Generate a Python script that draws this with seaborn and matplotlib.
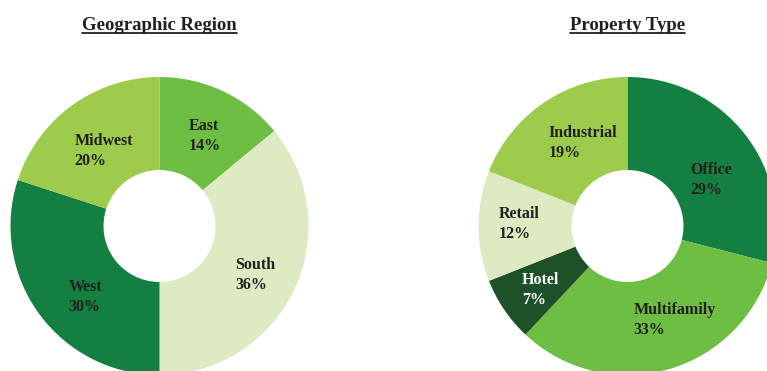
import matplotlib
matplotlib.use("Agg")
import matplotlib.pyplot as plt
import seaborn as sns
from matplotlib.lines import Line2D

sns.set_theme(style="white")
plt.rcParams['font.family'] = ['Liberation Serif', 'DejaVu Serif']

# ---- data ----
region_labels = ["East", "South", "West", "Midwest"]
region_values = [14, 36, 30, 20]
region_colors = ["#6fbe44", "#ddeac2", "#137f40", "#9dcb4b"]

ptype_labels = ["Office", "Multifamily", "Hotel", "Retail", "Industrial"]
ptype_values = [29, 33, 7, 12, 19]
ptype_colors = ["#137f40", "#6fbe44", "#1e5128", "#ddeac2", "#9dcb4b"]

titles = ["Geographic Region", "Property Type"]

# ---- layout (pixels, y measured from bottom) ----
W, H = 767, 371
fig = plt.figure(figsize=(W / 100, H / 100), dpi=100)
ax = fig.add_axes([0, 0, 1, 1])

R_OUT, R_IN = 149, 56
centers = [(159.5, H - 226), (627.5, H - 226)]
# label block offsets (dx, dy) relative to donut centre, in pixels
region_lbl_off = [(45, 90), (96, -49), (-74, -71), (-56, 75)]
ptype_lbl_off = [(84, 46), (47, -94), (-87, -64), (-108, 2), (-45, 83)]

text_color = "#231f20"

def donut(center, labels, values, colors, offsets, white=()):
    ax.pie(values, colors=colors, startangle=90, counterclock=False,
           radius=R_OUT, center=center,
           wedgeprops=dict(width=R_OUT - R_IN, linewidth=0, edgecolor="none"))
    for lab, v, (dx, dy) in zip(labels, values, offsets):
        col = "white" if lab in white else text_color
        ax.text(center[0] + dx, center[1] + dy, f"{lab}\n{v}%",
                ha="center", va="center", multialignment="left",
                fontsize=11.5, fontweight="bold", color=col, linespacing=1.35)

donut(centers[0], region_labels, region_values, region_colors, region_lbl_off)
donut(centers[1], ptype_labels, ptype_values, ptype_colors, ptype_lbl_off, white=("Hotel",))

ax.set_xlim(0, W)
ax.set_ylim(0, H)
ax.set_aspect("equal")
ax.axis("off")

title_objs = []
for (cx, _), t in zip(centers, titles):
    title_objs.append(ax.text(cx, H - 25, t, ha="center", va="center",
                              fontsize=13.5, fontweight="bold", color=text_color))

fig.canvas.draw()
r = fig.canvas.get_renderer()
for t in title_objs:
    bb = t.get_window_extent(renderer=r)
    y = bb.y0 + 0.5
    fig.add_artist(Line2D([bb.x0 / W, bb.x1 / W], [y / H, y / H],
                          transform=fig.transFigure, color=text_color, linewidth=1.3))

fig.savefig("out.png", dpi=100)
